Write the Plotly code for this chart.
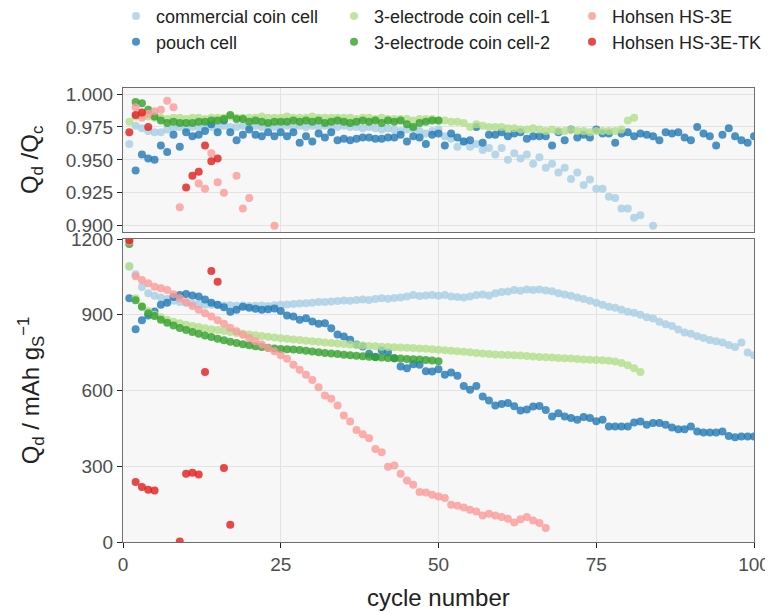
import plotly.graph_objects as go

# ---------------- data ----------------
series_names = ["commercial coin cell", "pouch cell", "3-electrode coin cell-1",
                "3-electrode coin cell-2", "Hohsen HS-3E", "Hohsen HS-3E-TK"]
series_colors = ["#a6cee3", "#1f78b4", "#b2df8a", "#33a02c", "#fb9a99", "#e31a1c"]

# Coulombic efficiency (Qd/Qc), starting at cycle 1
ce_commercial = [0.962, 0.976, 0.974, 0.972, 0.971, 0.971, 0.973, 0.974, 0.975, 0.974,
                 0.975, 0.975, 0.976, 0.975, 0.975, 0.976, 0.975, 0.975, 0.976, 0.975,
                 0.976, 0.975, 0.976, 0.975, 0.976, 0.976, 0.975, 0.976, 0.975, 0.976,
                 0.975, 0.976, 0.975, 0.975, 0.976, 0.975, 0.975, 0.974, 0.975, 0.974,
                 0.973, 0.974, 0.973, 0.972, 0.973, 0.974, 0.972, 0.970, 0.972, 0.973,
                 0.968, 0.966, 0.960, 0.964, 0.960, 0.962, 0.9575, 0.959, 0.954, 0.959,
                 0.950, 0.955, 0.951, 0.954, 0.947, 0.952, 0.944, 0.947, 0.9405, 0.944,
                 0.9355, 0.9405, 0.931, 0.935, 0.928, 0.928, 0.922, 0.921, 0.913, 0.913,
                 0.906, 0.908, None, 0.900]
ce_pouch = [None, 0.942, 0.954, 0.951, 0.950, 0.961, 0.956, 0.969, 0.960, 0.971,
            0.968, 0.969, 0.972, 0.977, 0.971, 0.980, 0.971, 0.965, 0.969, 0.973,
            0.969, 0.968, 0.971, 0.968, 0.971, 0.968, 0.971, 0.963, 0.968, 0.964,
            0.970, 0.967, 0.971, 0.965, 0.966, 0.965, 0.966, 0.967, 0.967, 0.966,
            0.966, 0.967, 0.967, 0.969, 0.964, 0.968, 0.967, 0.962, 0.969, 0.970,
            0.961, 0.970, 0.967, 0.964, 0.965, 0.975, 0.963, 0.969, 0.969, 0.971,
            0.968, 0.970, 0.971, 0.966, 0.968, 0.968, 0.968, 0.961, 0.971, 0.965,
            0.973, 0.967, 0.969, 0.967, 0.973, 0.970, 0.970, 0.963, 0.970, 0.971,
            0.968, 0.970, 0.969, 0.968, 0.965, 0.971, 0.970, 0.971, 0.967, 0.965,
            0.975, 0.970, 0.968, 0.961, 0.969, 0.974, 0.968, 0.965, 0.963, 0.968]
ce_3e1 = [0.979, 0.983, 0.984, 0.983, 0.982, 0.982, 0.981, 0.982, 0.982, 0.981,
          0.982, 0.982, 0.981, 0.982, 0.982, 0.982, 0.983, 0.982, 0.982, 0.982,
          0.982, 0.983, 0.982, 0.982, 0.982, 0.983, 0.982, 0.982, 0.982, 0.983,
          0.982, 0.982, 0.982, 0.982, 0.982, 0.982, 0.981, 0.982, 0.982, 0.981,
          0.982, 0.981, 0.981, 0.981, 0.981, 0.980, 0.981, 0.981, 0.981, 0.980,
          0.980, 0.979, 0.979, 0.978, 0.975, 0.977, 0.976, 0.975, 0.975, 0.975,
          0.974, 0.974, 0.973, 0.973, 0.974, 0.973, 0.972, 0.973, 0.972, 0.972,
          0.973, 0.972, 0.972, 0.971, 0.972, 0.972, 0.972, 0.972, 0.973, 0.980,
          0.982]
ce_3e2 = [None, 0.994, 0.993, 0.988, 0.983, 0.980, 0.978, 0.979, 0.978, 0.978,
          0.978, 0.979, 0.979, 0.980, 0.980, 0.981, 0.984, 0.981, 0.981, 0.979,
          0.980, 0.979, 0.978, 0.979, 0.979, 0.979, 0.980, 0.979, 0.980, 0.979,
          0.980, 0.978, 0.979, 0.980, 0.979, 0.978, 0.979, 0.980, 0.979, 0.980,
          0.978, 0.980, 0.979, 0.980, 0.977, 0.975, 0.978, 0.979, 0.980, 0.980]
ce_hs3e = [None, 0.990, 0.982, 0.985, 0.987, 0.988, 0.995, 0.990, 0.914, None,
           None, 0.932, 0.928, 0.955, 0.933, 0.925, None, 0.938, 0.913, 0.921,
           None, None, None, 0.900]
ce_hs3etk = [0.971, 0.984, 0.986, 0.975, None, None, None, None, None, 0.929,
             0.938, 0.941, 0.961, 0.949, 0.951, None, None]

# Discharge capacity Qd / mAh g^-1, starting at cycle 1
qd_commercial = [1090, 1060, 1010, 985, 975, 968, 962, 955, 950, 947,
                 945, 942, 940, 940, 938, 937, 938, 936, 937, 935,
                 936, 937, 935, 938, 940, 941, 943, 945, 946, 948,
                 950, 950, 952, 954, 956, 955, 958, 960, 958, 962,
                 965, 963, 966, 968, 972, 978, 974, 976, 978, 975,
                 978, 972, 970, 968, 972, 978, 980, 976, 985, 990,
                 992, 998, 995, 1000, 998, 1000, 996, 993, 985, 980,
                 975, 968, 962, 955, 948, 940, 932, 928, 920, 912,
                 908, 900, 890, 885, 872, 862, 855, 842, 830, 825,
                 815, 808, 800, 795, 790, 780, 772, 790, 750, 740]
qd_pouch = [965, 843, 878, 897, 913, 940, 948, 970, 978, 982,
            976, 972, 960, 948, 940, 930, 912, 920, 932, 928,
            924, 920, 922, 925, 915, 897, 893, 880, 886, 873,
            864, 866, 847, 822, 814, 801, 782, 774, 746, 734,
            758, 750, 728, 695, 688, 704, 702, 676, 675, 684,
            662, 671, 658, 618, 603, 618, 576, 560, 541, 547,
            550, 538, 521, 525, 537, 539, 523, 497, 510, 497,
            491, 484, 495, 491, 478, 484, 457, 457, 457, 457,
            473, 477, 464, 471, 471, 464, 453, 447, 447, 457,
            438, 434, 434, 434, 438, 420, 415, 418, 418, 418]
qd_3e1 = [1093, 965, 935, 915, 900, 890, 880, 872, 866, 860,
          855, 851, 847, 843, 840, 836, 832, 828, 825, 822,
          819, 816, 813, 810, 807, 805, 802, 800, 797, 795,
          793, 790, 788, 786, 784, 782, 780, 778, 776, 775,
          773, 772, 771, 770, 769, 768, 766, 765, 763, 761,
          759, 757, 755, 753, 751, 749, 747, 745, 743, 742,
          741, 740, 739, 737, 735, 733, 732, 731, 729, 728,
          727, 725, 723, 722, 721, 720, 718, 715, 709, 700,
          688, 673]
qd_3e2 = [1180, 957, 932, 906, 895, 880, 868, 857, 848, 840,
          832, 825, 818, 812, 805, 799, 793, 788, 783, 779,
          775, 772, 769, 766, 764, 763, 762, 760, 757, 754,
          751, 749, 747, 745, 742, 740, 738, 736, 734, 732,
          731, 729, 728, 727, 725, 724, 723, 721, 719, 716]
qd_hs3e = [1190, 1052, 1038, 1025, 1011, 1005, 998, 981, 965, 950,
           935, 920, 906, 893, 878, 864, 849, 835, 821, 808,
           795, 782, 768, 755, 740, 726, 702, 682, 662, 642,
           613, 580, 567, 541, 501, 477, 444, 427, 411, 368,
           355, 298, 303, 270, 244, 227, 198, 196, 187, 180,
           174, 148, 144, 137, 128, 121, 105, 112, 105, 99,
           92, 77, 90, 99, 85, 75, 55]
qd_hs3etk = [1195, 238, 218, 207, 204, None, None, None, 2, 270,
             274, 267, 673, 1073, 1031, 293, 68]

ce_data = [ce_commercial, ce_pouch, ce_3e1, ce_3e2, ce_hs3e, ce_hs3etk]
qd_data = [qd_commercial, qd_pouch, qd_3e1, qd_3e2, qd_hs3e, qd_hs3etk]

x_ticks = [0, 25, 50, 75, 100]
ce_ticks = [0.900, 0.925, 0.950, 0.975, 1.000]
ce_ticklabels = ["0.900", "0.925", "0.950", "0.975", "1.000"]
qd_ticks = [0, 300, 600, 900, 1200]

# ---------------- figure ----------------
FONT = "Liberation Sans, Arial, Helvetica, sans-serif"
fig = go.Figure()

# legend boxes (left edge, vertical centre) in paper coordinates
legend_pos = [(-0.0111, 1.158), (-0.0111, 1.1013),
              (0.3344, 1.158), (0.3344, 1.1013),
              (0.7116, 1.158), (0.7116, 1.1013)]

for i, name in enumerate(series_names):
    lg = "legend" if i == 0 else f"legend{i+1}"
    cyc_ce = list(range(1, len(ce_data[i]) + 1))
    cyc_qd = list(range(1, len(qd_data[i]) + 1))
    fig.add_trace(go.Scatter(
        x=cyc_ce, y=ce_data[i], mode="markers", name=name,
        marker=dict(color=series_colors[i], size=8, opacity=0.8, line=dict(width=0)),
        xaxis="x", yaxis="y", showlegend=False, legendgroup=name))
    fig.add_trace(go.Scatter(
        x=cyc_qd, y=qd_data[i], mode="markers", name=name,
        marker=dict(color=series_colors[i], size=8, opacity=0.8, line=dict(width=0)),
        xaxis="x2", yaxis="y2", showlegend=True, legendgroup=name, legend=lg))

legend_common = dict(orientation="v", xanchor="left", yanchor="middle",
                     bgcolor="rgba(0,0,0,0)", borderwidth=0, itemwidth=30,
                     font=dict(family=FONT, size=18, color="#222222"))
for i, (lx, ly) in enumerate(legend_pos):
    key = "legend" if i == 0 else f"legend{i+1}"
    fig.update_layout({key: dict(x=lx, y=ly, **legend_common)})

grid_col = "#e3e3e3"
panel_bg = "#f7f7f7"
line_col = "#6e6e6e"

axis_common = dict(showgrid=True, gridcolor=grid_col, gridwidth=1, zeroline=False,
                   showline=True, linecolor=line_col, linewidth=1, mirror=True)
tick_font = dict(family=FONT, size=19, color="#4d4d4d")

# The page body adds an 8px offset, so the figure is 8px smaller than the window.
fig.update_layout(
    width=765, height=606,
    margin=dict(l=115, r=19, t=80, b=72, autoexpand=False),
    paper_bgcolor="white", plot_bgcolor=panel_bg,
    font=dict(family=FONT, size=18, color="#4d4d4d"),
    xaxis=dict(domain=[0, 1], anchor="y", range=[0, 100], tickvals=x_ticks,
               showticklabels=False, ticks="", matches="x2", **axis_common),
    yaxis=dict(domain=[0.6828, 1], anchor="x", range=[0.8952, 1.0046],
               tickvals=ce_ticks, ticktext=ce_ticklabels, ticks="outside",
               ticklen=5, tickcolor="#222222", tickwidth=1.2,
               tickfont=tick_font, **axis_common),
    xaxis2=dict(domain=[0, 1], anchor="y2", range=[0, 100], tickvals=x_ticks,
                ticks="outside", ticklen=5, tickcolor="#222222", tickwidth=1.2,
                tickfont=tick_font, **axis_common),
    yaxis2=dict(domain=[0, 0.6674], anchor="x2", range=[0, 1200], tickvals=qd_ticks,
                ticks="outside", ticklen=5, tickcolor="#222222", tickwidth=1.2,
                tickfont=tick_font, **axis_common),
)

title_font = dict(family=FONT, size=24, color="#222222")
fig.add_annotation(text="Q<sub>d</sub> /Q<sub>c</sub>", xref="paper", yref="paper",
                   x=-0.146, y=0.841, textangle=-90, showarrow=False,
                   xanchor="center", yanchor="middle", font=title_font)
fig.add_annotation(text="Q<sub>d</sub> / mAh g<sub>S</sub><sup>\u22121</sup>",
                   xref="paper", yref="paper", x=-0.146, y=0.3337, textangle=-90,
                   showarrow=False, xanchor="center", yanchor="middle", font=title_font)
fig.add_annotation(text="cycle number", xref="paper", yref="paper",
                   x=0.5, y=-0.123, showarrow=False, xanchor="center",
                   yanchor="middle", font=title_font)

fig.write_html("out.html")
